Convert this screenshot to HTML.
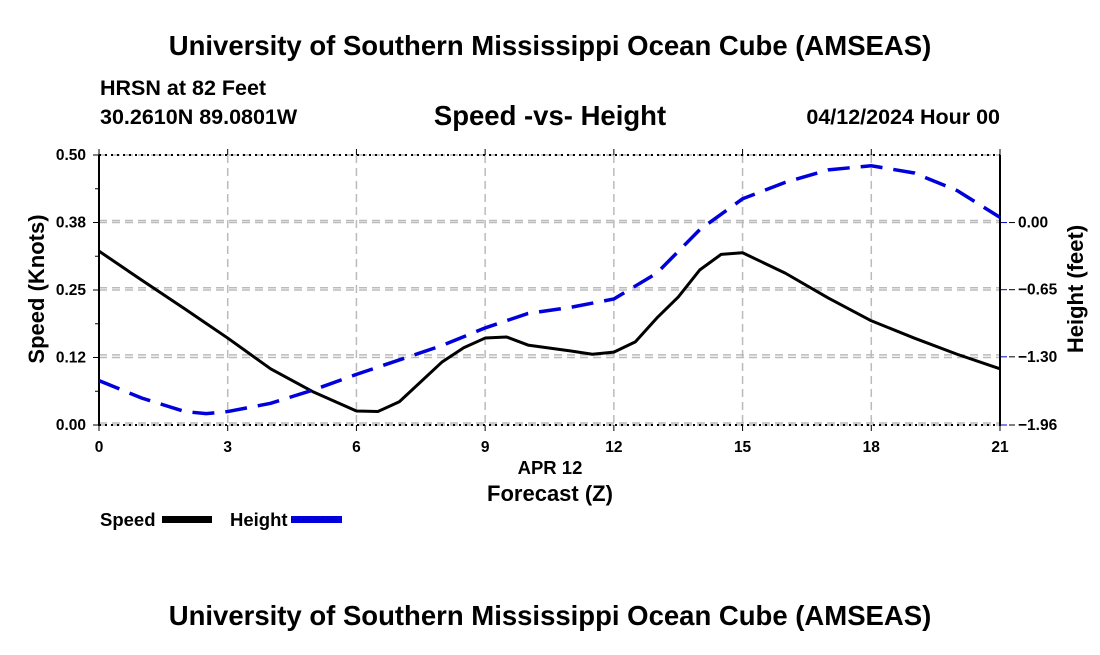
<!DOCTYPE html>
<html><head><meta charset="utf-8"><style>
body{margin:0;background:#fff;width:1100px;height:650px;overflow:hidden;font-family:"Liberation Sans",sans-serif}
text{font-family:"Liberation Sans",sans-serif;font-weight:bold;fill:#000}
</style></head><body>
<svg id="chart" width="1100" height="650" xmlns="http://www.w3.org/2000/svg">
<text x="550" y="55" font-size="27.5" text-anchor="middle">University of Southern Mississippi Ocean Cube (AMSEAS)</text>
<text x="100" y="95" font-size="21.5">HRSN at 82 Feet</text>
<text x="100" y="124" font-size="21.5">30.2610N  89.0801W</text>
<text x="550" y="125" font-size="27.5" text-anchor="middle">Speed -vs- Height</text>
<text x="1000" y="124" font-size="21.5" text-anchor="end">04/12/2024 Hour 00</text>
<g id="grid"></g>
<g id="axes"></g>
<g id="series"></g>
<text x="550" y="474" font-size="18.5" text-anchor="middle">APR 12</text>
<text x="550" y="501" font-size="22" text-anchor="middle">Forecast (Z)</text>
<text transform="translate(44,289) rotate(-90)" font-size="22" text-anchor="middle">Speed (Knots)</text>
<text transform="translate(1083,289) rotate(-90)" font-size="22" text-anchor="middle">Height (feet)</text>
<g>
<text x="100" y="526" font-size="18.5">Speed</text>
<rect x="162" y="516" width="50" height="7" fill="#000"/>
<text x="230" y="526" font-size="18.5">Height</text>
<rect x="291" y="516" width="51" height="7" fill="#0000dd"/>
<line x1="291" y1="519.5" x2="342" y2="519.5" stroke="#000" stroke-width="1" stroke-dasharray="8,4" opacity="0.5"/>
</g>
<text x="550" y="625" font-size="27.5" text-anchor="middle">University of Southern Mississippi Ocean Cube (AMSEAS)</text>
</svg>
<script>
const hours=[0,1,2,2.5,3,4,5,6,6.5,7,8,8.5,9,9.5,10,11,11.5,12,12.5,13,13.5,14,14.5,15,16,17,18,19,20,21];
const speed=[0.322,0.268,0.215,0.188,0.161,0.104,0.061,0.026,0.025,0.043,0.117,0.143,0.161,0.163,0.148,0.137,0.131,0.135,0.154,0.198,0.237,0.287,0.316,0.319,0.281,0.235,0.193,0.161,0.131,0.104];
const hHours=[0,1,2,2.5,3,4,5,6,7,8,9,10,11,12,13,14,15,16,17,18,19,20,21];
const height=[-1.53,-1.70,-1.83,-1.85,-1.83,-1.75,-1.62,-1.47,-1.33,-1.19,-1.02,-0.88,-0.82,-0.74,-0.49,-0.07,0.23,0.39,0.51,0.55,0.48,0.31,0.05];
const xTicks=[0,3,6,9,12,15,18,21];
const yTicks=[0,0.125,0.25,0.375,0.5];
const yTickLabels=["0.00","0.12","0.25","0.38","0.50"];
const y2Ticks=[-1.96,-1.30,-0.65,0.00];
const y2TickLabels=["\u22121.96","\u22121.30","\u22120.65","0.00"];
const L=99,R=1000,T=155,B=425;
const X=h=>L+(h-0)/21*(R-L);
const Y=v=>B-v/0.5*(B-T);
const Y2=v=>B-(v+1.96)/2.614*(B-T);
const NS="http://www.w3.org/2000/svg";
function mk(tag,attrs,parent){const e=document.createElementNS(NS,tag);for(const k in attrs)e.setAttribute(k,attrs[k]);parent.appendChild(e);return e;}
const grid=document.getElementById('grid'),axes=document.getElementById('axes'),ser=document.getElementById('series');
xTicks.forEach(h=>{
  if(h>0&&h<21){const g=mk('line',{x1:X(h),x2:X(h),y1:T,y2:B,stroke:'#bbb','stroke-width':1.5,'stroke-dasharray':'8,5'},grid);
  
  }
  mk('line',{x1:X(h),x2:X(h),y1:B,y2:B+6,stroke:'#000','stroke-width':1},axes);
  mk('line',{x1:X(h),x2:X(h),y1:T,y2:T-6,stroke:'#000','stroke-width':1},axes);
  const t=mk('text',{x:X(h),y:B+27,'font-size':15.5,'text-anchor':'middle'},axes);t.textContent=h;
  
  
});
yTicks.forEach((v,i)=>{
  const g=mk('line',{x1:L,x2:R,y1:Y(v),y2:Y(v),stroke:'#bbb','stroke-width':1.5,'stroke-dasharray':'8,5'},grid);
  
  
  mk('line',{x1:L-6,x2:L,y1:Y(v),y2:Y(v),stroke:'#000','stroke-width':1},axes);
  const t=mk('text',{x:L-13,y:Y(v)+5,'font-size':15.5,'text-anchor':'end'},axes);t.textContent=yTickLabels[i];
  
  
});
for(let k=1;k<8;k+=2){const v=k*0.0625;mk('line',{x1:L-4,x2:L,y1:Y(v),y2:Y(v),stroke:'#000','stroke-width':1},axes);}
y2Ticks.forEach((v,i)=>{
  const g=mk('line',{x1:L,x2:R,y1:Y2(v)-2,y2:Y2(v)-2,stroke:'#bbb','stroke-width':1.5,'stroke-dasharray':'8,5'},grid);
  
  
  mk('line',{x1:R,x2:R+7,y1:Y2(v),y2:Y2(v),stroke:'#0000cc','stroke-width':1},axes);
  mk('line',{x1:R+9,x2:R+15,y1:Y2(v),y2:Y2(v),stroke:'#000','stroke-width':1},axes);
  const t=mk('text',{x:R+18,y:Y2(v)+5,'font-size':15.5},axes);t.textContent=y2TickLabels[i];
  
  
});
mk('line',{x1:L,x2:R,y1:T,y2:T,stroke:'#000','stroke-width':2,'stroke-dasharray':'2,4'},axes);
mk('line',{x1:L,x2:R,y1:B,y2:B,stroke:'#000','stroke-width':2,'stroke-dasharray':'2,4'},axes);
mk('line',{x1:L,x2:L,y1:T,y2:B+1,stroke:'#000','stroke-width':2},axes);
mk('line',{x1:R,x2:R,y1:T,y2:B+1,stroke:'#000','stroke-width':2},axes);
const sp=mk('polyline',{points:hours.map((h,i)=>X(h)+','+Y(speed[i])).join(' '),fill:'none',stroke:'#000','stroke-width':3,'stroke-linejoin':'round'},ser);


const hp=mk('polyline',{points:hHours.map((h,i)=>X(h)+','+Y2(height[i])).join(' '),fill:'none',stroke:'#0000dd','stroke-width':3.5,'stroke-dasharray':'22,11'},ser);


</script>
</body></html>
